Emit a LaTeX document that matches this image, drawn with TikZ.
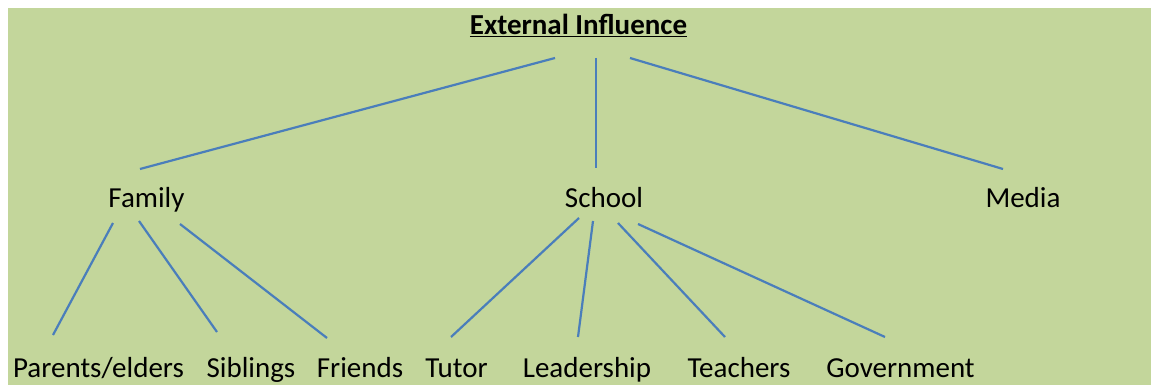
\documentclass[tikz,border=0pt]{standalone}
\usepackage{fontspec}
\setmainfont{Carlito}
\usepackage{tikz}
\usetikzlibrary{positioning,calc}
\definecolor{bggreen}{HTML}{C3D69B}
\definecolor{linkblue}{HTML}{4A7EBB}
\tikzstyle{link}=[draw,linkblue,line width=2.2pt]
\tikzstyle{lbl}=[anchor=base,inner sep=0pt,font=\fontsize{29}{35}\selectfont]

\begin{document}
\begin{tikzpicture}[x=1pt,y=-1pt]
\fill[white] (0,0) rectangle (1151,385);
\fill[bggreen] (8,8) rectangle (1151,385);
\useasboundingbox (0,0) rectangle (1151,385);

\node [lbl] (top) at (578.5,35) {\bfseries\underline{External Influence}};
\node [lbl] (fam) at (146.5,207) {Family};
\node [lbl] (sch) at (604,207) {School};
\node [lbl] (med) at (1023,207) {Media};

\node [lbl] (fam1) at (98.5,377) {Parents/elders};
\node [lbl] (fam2) at (251,377) {Siblings};
\node [lbl] (fam3) at (360,377) {Friends};
\node [lbl] (sch1) at (456.5,377) {Tutor};
\node [lbl] (sch2) at (587,377) {Leadership};
\node [lbl] (sch3) at (739,377) {Teachers};
\node [lbl] (sch4) at (900.5,377) {Government};

% first level
\draw[link] ([shift={(-23.5,23)}]top.base) -- ([shift={(-6.5,-38)}]fam.base);
\draw[link] ([shift={(17.5,23)}]top.base) -- ([shift={(-8,-39)}]sch.base);
\draw[link] ([shift={(51.5,23)}]top.base) -- ([shift={(-20,-38)}]med.base);

% family
\draw[link] ([shift={(-33.5,16)}]fam.base) -- ([shift={(-45.5,-42)}]fam1.base);
\draw[link] ([shift={(-7.5,14)}]fam.base) -- ([shift={(-34,-45)}]fam2.base);
\draw[link] ([shift={(33.5,17)}]fam.base) -- ([shift={(-33,-39)}]fam3.base);

% school
\draw[link] ([shift={(-25,11)}]sch.base) -- ([shift={(-5.5,-40)}]sch1.base);
\draw[link] ([shift={(-11,14)}]sch.base) -- ([shift={(-9,-40)}]sch2.base);
\draw[link] ([shift={(14,16)}]sch.base) -- ([shift={(-14,-40)}]sch3.base);
\draw[link] ([shift={(34,17)}]sch.base) -- ([shift={(-15.5,-40)}]sch4.base);
\end{tikzpicture}
\end{document}
